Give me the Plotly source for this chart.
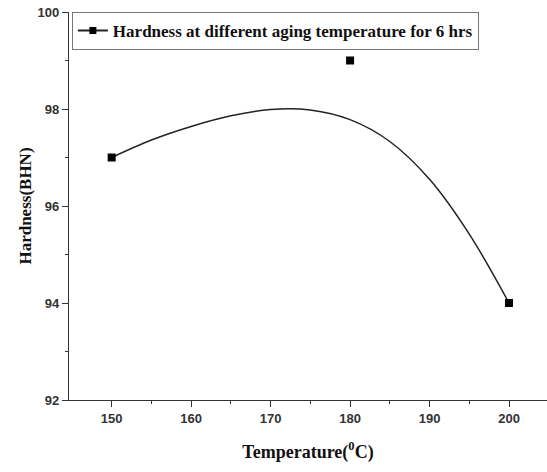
import plotly.graph_objects as go

# Measured data points
temperature = [150, 180, 200]
hardness = [97, 99, 94]

# Smooth curve
curve_x = [150, 155, 160, 165, 170, 175, 180, 185, 190, 195, 200]
curve_y = [97.0, 97.36, 97.64, 97.86, 97.99, 97.98, 97.78, 97.33, 96.55, 95.42, 94.0]

legend_name = "Hardness at different aging temperature for 6 hrs"

fig = go.Figure()
fig.add_trace(go.Scatter(
    x=curve_x, y=curve_y, mode="lines",
    line=dict(color="#222222", width=1.5, shape="spline", smoothing=1.0),
    showlegend=False, hoverinfo="skip"))
fig.add_trace(go.Scatter(
    x=temperature, y=hardness, mode="markers",
    marker=dict(symbol="square", size=8, color="black"),
    showlegend=False))
# legend entry (line + square)
fig.add_trace(go.Scatter(
    x=[None], y=[None], mode="lines+markers", name=legend_name,
    line=dict(color="#222222", width=2),
    marker=dict(symbol="square", size=7, color="black")))

serif = "Liberation Serif, Times New Roman, serif"
sans = "Liberation Sans, Arial, sans-serif"

fig.update_layout(
    width=547, height=472,
    margin=dict(l=69, r=0, t=12, b=72),
    paper_bgcolor="white", plot_bgcolor="white",
    showlegend=True,
    legend=dict(x=0.006, y=1.0, xanchor="left", yanchor="top",
                bordercolor="#777777", borderwidth=1, bgcolor="white",
                font=dict(family=serif, size=17, color="#111111", weight="bold"),
                itemwidth=30, tracegroupgap=0),
    xaxis=dict(range=[144.63, 204.78], tickvals=[150, 160, 170, 180, 190, 200],
               ticks="outside", ticklen=6, tickwidth=1.2, tickcolor="#333",
               minor=dict(tickvals=[155, 165, 175, 185, 195], ticks="outside",
                          ticklen=3, tickwidth=1.2, tickcolor="#333"),
               showline=True, linecolor="#333", linewidth=1.2,
               showgrid=False, zeroline=False,
               tickfont=dict(family=sans, size=13, color="#333", weight="bold"),
               title=dict(text="Temperature(<sup>0</sup>C)", standoff=20,
                          font=dict(family=serif, size=18, color="#111", weight="bold"))),
    yaxis=dict(range=[92, 100], tickvals=[92, 94, 96, 98, 100],
               ticks="outside", ticklen=6, tickwidth=1.2, tickcolor="#333",
               minor=dict(tickvals=[93, 95, 97, 99], ticks="outside",
                          ticklen=3, tickwidth=1.2, tickcolor="#333"),
               showline=True, linecolor="#333", linewidth=1.2,
               showgrid=False, zeroline=False,
               tickfont=dict(family=sans, size=13, color="#333", weight="bold"),
               title=dict(text="Hardness(BHN)", standoff=1,
                          font=dict(family=serif, size=17, color="#111", weight="bold"))),
)

fig.write_html("out.html")
